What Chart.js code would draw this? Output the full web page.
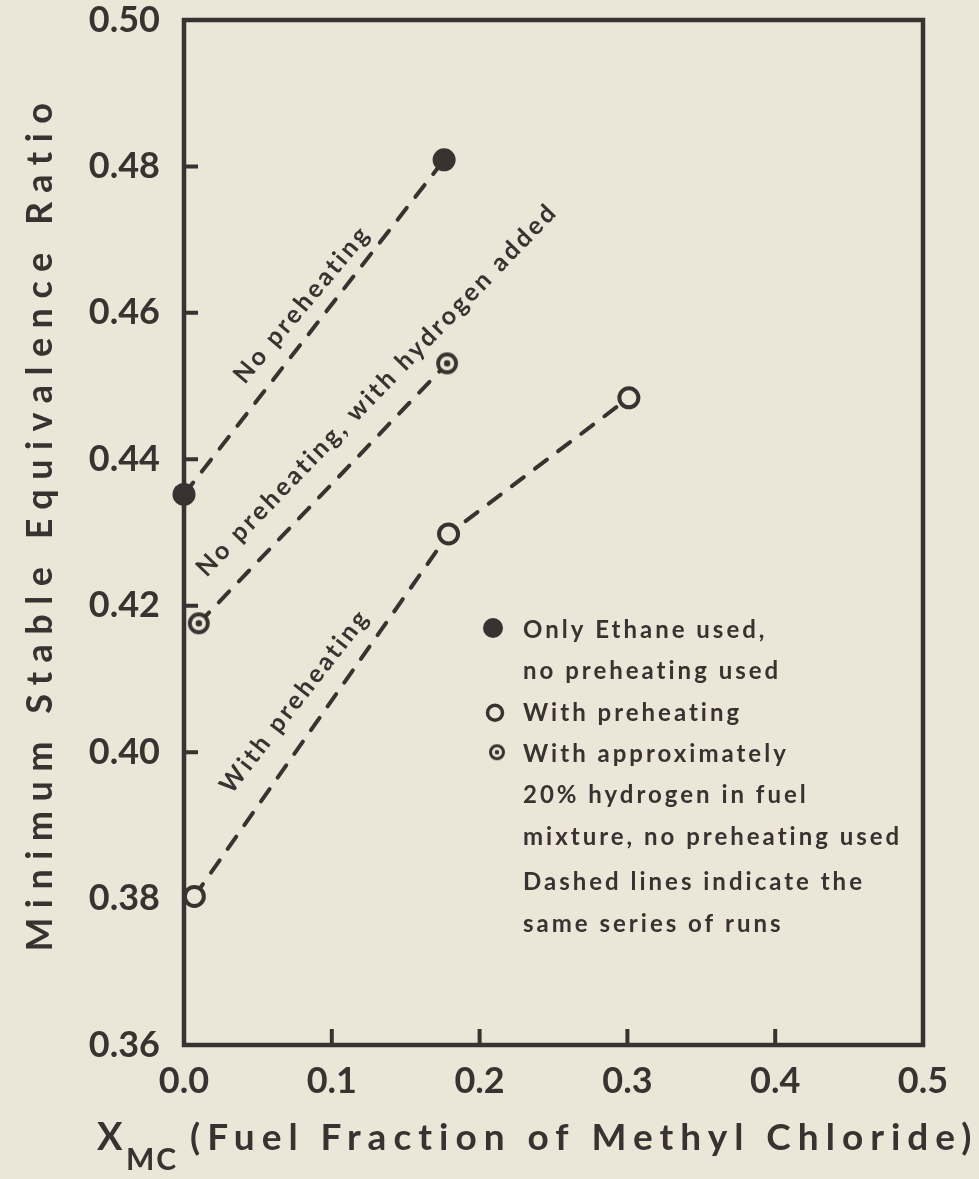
<!DOCTYPE html>
<html>
<head>
<title>Minimum Stable Equivalence Ratio</title>
<script src="https://cdn.jsdelivr.net/npm/chart.js@4.4.0/dist/chart.umd.min.js"></script>
<style>
  body { margin: 0; background: #ebe6d8; }
  #box { width: 979px; height: 1179px; }
</style>
</head>
<body>
<div id="box"><canvas id="chartCanvas" width="979" height="1179"></canvas></div>
<script>
// ink and paper colours of the scanned figure
const INK = '#3a3230';
const PAPER = '#ebe6d8';
const FONT = 'Lato, "DejaVu Sans", sans-serif';

// axis ticks
const xTickValues = [0.0, 0.1, 0.2, 0.3, 0.4, 0.5];
const yTickValues = [0.36, 0.38, 0.40, 0.42, 0.44, 0.46, 0.48, 0.50];

// series (x = fuel fraction of methyl chloride)
const ethaneX = [0.000, 0.176];
const ethaneY = [0.4352, 0.4809];
const hydrogenX = [0.010, 0.178];
const hydrogenY = [0.4176, 0.4531];
const preheatX = [0.007, 0.179, 0.301];
const preheatY = [0.3803, 0.4298, 0.4484];

// legend text block
const legendLines = ['Only Ethane used,', 'no preheating used', 'With preheating',
  'With approximately', '20% hydrogen in fuel', 'mixture, no preheating used',
  'Dashed lines indicate the', 'same series of runs'];

// labels written along the dashed lines
const lineLabels = [
  { text: 'No preheating', x: 0.080, y: 0.4612, angle: -50 },
  { text: 'No preheating, with hydrogen added', x: 0.1306, y: 0.4495, angle: -46 },
  { text: 'With preheating', x: 0.075, y: 0.4070, angle: -52 }
];

const toPoints = (xs, ys) => xs.map((x, i) => ({ x: x, y: ys[i] }));

// dotted circle marker
const dotCircle = (r, lw, dot) => {
  const c = document.createElement('canvas');
  const s = Math.ceil(2 * r + lw + 2);
  c.width = s; c.height = s;
  const g = c.getContext('2d');
  g.fillStyle = PAPER;
  g.strokeStyle = INK;
  g.lineWidth = lw;
  g.beginPath(); g.arc(s / 2, s / 2, r, 0, Math.PI * 2); g.fill(); g.stroke();
  g.fillStyle = INK;
  g.beginPath(); g.arc(s / 2, s / 2, dot, 0, Math.PI * 2); g.fill();
  return c;
};
const hydroMarker = dotCircle(9, 3.8, 3.2);
const hydroLegend = dotCircle(6.5, 3, 2.3);

const spacedText = (ctx, txt, x, y, spacing) => {
  ctx.letterSpacing = spacing + 'px';
  ctx.fillText(txt, x, y);
  ctx.letterSpacing = '0px';
};

const figurePlugin = {
  id: 'figure',
  beforeDatasetsDraw(chart) {
    const ctx = chart.ctx;
    const a = chart.chartArea;
    const xs = chart.scales.x, ys = chart.scales.y;
    ctx.save();
    ctx.strokeStyle = INK;
    ctx.lineWidth = 4.5;
    ctx.lineJoin = 'miter';
    ctx.strokeRect(a.left, a.top, a.right - a.left, a.bottom - a.top);
    // inward tick marks
    ctx.lineWidth = 4;
    ctx.beginPath();
    yTickValues.slice(1, -1).forEach(v => {
      const py = ys.getPixelForValue(v);
      ctx.moveTo(a.left, py); ctx.lineTo(a.left + 14, py);
    });
    xTickValues.slice(1, -1).forEach(v => {
      const px = xs.getPixelForValue(v);
      ctx.moveTo(px, a.bottom); ctx.lineTo(px, a.bottom - 16);
    });
    ctx.stroke();
    ctx.restore();
  },
  afterDraw(chart) {
    const ctx = chart.ctx;
    const a = chart.chartArea;
    const xs = chart.scales.x, ys = chart.scales.y;
    ctx.save();
    ctx.fillStyle = INK;
    ctx.textBaseline = 'middle';

    // labels along lines
    ctx.font = 'bold 25px ' + FONT;
    ctx.textAlign = 'center';
    lineLabels.forEach(l => {
      ctx.save();
      ctx.translate(xs.getPixelForValue(l.x), ys.getPixelForValue(l.y));
      ctx.rotate(l.angle * Math.PI / 180);
      spacedText(ctx, l.text, 0, 0, 3);
      ctx.restore();
    });

    // legend block
    const lx = a.left + 339, ly = a.top + 610, step = 41.4;
    ctx.textAlign = 'left';
    ctx.font = 'bold 24px ' + FONT;
    legendLines.forEach((t, i) => {
      const extra = i >= 6 ? 4 : 0;
      spacedText(ctx, t, lx, ly + i * step + extra, 3);
    });
    ctx.beginPath();
    ctx.arc(lx - 30, ly - 2, 10, 0, Math.PI * 2);
    ctx.fill();
    ctx.lineWidth = 3.5;
    ctx.strokeStyle = INK;
    ctx.beginPath();
    ctx.arc(lx - 28, ly + 2 * step, 7.5, 0, Math.PI * 2);
    ctx.stroke();
    ctx.drawImage(hydroLegend, lx - 26 - hydroLegend.width / 2, ly + 3 * step - 2 - hydroLegend.height / 2);

    // y title
    ctx.save();
    ctx.font = 'bold 36px ' + FONT;
    ctx.textAlign = 'center';
    ctx.translate(40, (a.top + a.bottom) / 2 - 10);
    ctx.rotate(-Math.PI / 2);
    spacedText(ctx, 'Minimum Stable Equivalence Ratio', 0, 0, 9.5);
    ctx.restore();

    // x title with subscript
    ctx.textAlign = 'left';
    ctx.font = 'bold 38px ' + FONT;
    spacedText(ctx, 'X', 97, 1138, 0);
    ctx.font = 'bold 30px ' + FONT;
    spacedText(ctx, 'MC', 126, 1160, 2);
    ctx.font = 'bold 37px ' + FONT;
    spacedText(ctx, '(Fuel Fraction of Methyl Chloride)', 190, 1138, 7);
    ctx.restore();
  }
};

const dashed = [15, 14];

const config = {
  type: 'scatter',
  data: {
    datasets: [
      {
        label: 'Only Ethane used, no preheating used',
        data: toPoints(ethaneX, ethaneY),
        showLine: true,
        borderColor: INK,
        borderWidth: 4,
        borderDash: dashed,
        borderCapStyle: 'round',
        pointRadius: 11.5,
        pointBorderWidth: 0,
        pointBackgroundColor: INK,
        clip: false
      },
      {
        label: 'With approximately 20% hydrogen in fuel mixture',
        data: toPoints(hydrogenX, hydrogenY),
        showLine: true,
        borderColor: INK,
        borderWidth: 4,
        borderDash: dashed,
        borderCapStyle: 'round',
        pointStyle: hydroMarker,
        clip: false
      },
      {
        label: 'With preheating',
        data: toPoints(preheatX, preheatY),
        showLine: true,
        borderColor: INK,
        borderWidth: 4,
        borderDash: dashed,
        borderCapStyle: 'round',
        pointRadius: 9.5,
        pointBorderWidth: 4,
        pointBorderColor: INK,
        pointBackgroundColor: PAPER,
        clip: false
      }
    ]
  },
  options: {
    responsive: false,
    animation: false,
    layout: { padding: { left: 0, right: 56, top: 20, bottom: 0 } },
    plugins: { legend: { display: false }, tooltip: { enabled: false } },
    scales: {
      x: {
        type: 'linear',
        min: 0, max: 0.5,
        afterBuildTicks: s => { s.ticks = xTickValues.map(v => ({ value: v })); },
        afterFit: s => { s.height = 134; s.paddingLeft = 0; s.paddingRight = 0; },
        grid: { display: false },
        border: { display: false },
        ticks: {
          color: INK,
          padding: 7,
          maxRotation: 0,
          font: { family: FONT, size: 36, weight: 'bold' },
          callback: v => v.toFixed(1)
        }
      },
      y: {
        type: 'linear',
        min: 0.36, max: 0.50,
        afterBuildTicks: s => { s.ticks = yTickValues.map(v => ({ value: v })); },
        afterFit: s => { s.width = 184; s.paddingTop = 0; s.paddingBottom = 0; },
        grid: { display: false },
        border: { display: false },
        ticks: {
          color: INK,
          padding: 16,
          font: { family: FONT, size: 36, weight: 'bold' },
          callback: v => v.toFixed(2)
        }
      }
    }
  },
  plugins: [figurePlugin]
};

new Chart(document.getElementById('chartCanvas').getContext('2d'), config);
</script>
</body>
</html>
